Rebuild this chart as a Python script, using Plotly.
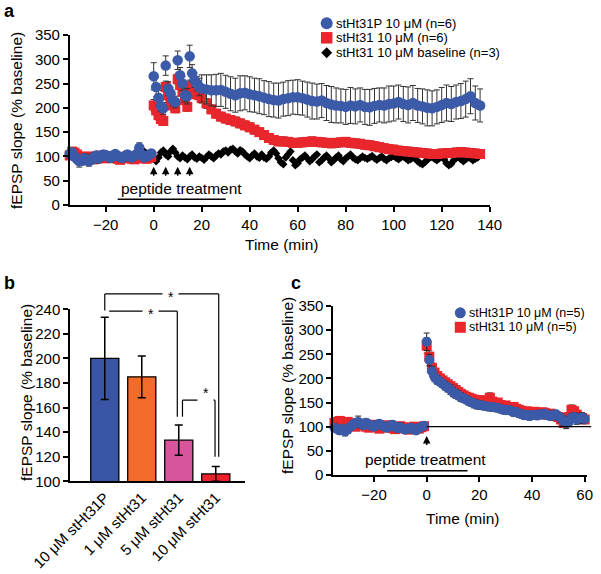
import plotly.graph_objects as go

W, H = 601, 574
FONT = "Liberation Sans, Arial, sans-serif"

# ---------------- Panel a data ----------------
time_a = list(range(-35, 20)) + list(range(20, 137, 2))
blue_a = [105,108,100,95,90,92,96,94,90,93, 98,102,96,100,104,103,100,97,102,105,
          101,99,97,101,104,100,98,102,105,118, 104,98,100,103,106,
          265,243,221,204,199,287,240,230,216,212, 298,267,250,226,224,306,271,257,250,243,
          240,238,236,236,237,233,229,226,230,231, 228,226,224,221,218,216,215,218,220,222,
          222,220,217,214,213,215,210,207,205,204, 202,205,203,206,202,201,204,206,205,208,
          209,212,208,206,210,205,203,200,199,202, 206,210,208,212,214,218,224,210,205]
blue_err_a = [10,9,8,9,12,10,9,11,10,8, 9,8,10,9,8,7,8,9,8,7,
              8,9,8,7,8,9,8,7,8,10, 8,7,8,7,8,
              28,20,15,12,12,20,14,12,12,12, 19,16,14,14,16,23,18,15,15,18,
              28,30,32,33,34,34,35,35,36,35, 36,35,36,35,36,35,36,35,36,35,
              36,35,36,37,36,35,36,37,36,35, 36,37,36,35,36,37,36,35,36,37,
              36,35,36,37,36,35,36,37,36,35, 36,37,36,35,36,37,36,35,34]
red_a = [102,110,108,104,100,97,95,98,100,96, 94,97,100,102,99,96,98,101,99,97,
         95,93,96,98,100,97,95,94,96,98, 100,97,95,97,99,
         205,195,185,177,173,243,226,213,205,199, 259,247,233,216,202,245,238,232,228,226,
         220,209,197,188,182,178,175,172,168,164, 160,155,150,144,138,134,131,131,130,128,
         128,129,130,131,130,129,128,127,128,129, 130,128,127,126,124,123,121,119,117,115,
         114,112,111,110,109,108,107,106,105,105, 106,107,107,108,109,108,107,106,105]
red_err_a = [7,8,7,6,7,6,7,6,7,6, 7,6,7,6,7,6,7,6,7,6,
             7,6,7,6,7,6,7,6,7,6, 7,6,7,6,7,
             12,10,10,9,9,12,10,10,9,9, 12,10,10,9,9,12,10,10,9,9,
             10,10,9,9,9,9,9,9,9,9, 9,9,9,9,9,9,9,9,9,9,
             9,9,9,9,9,9,9,9,9,9, 9,9,9,9,9,9,9,9,9,9,
             9,9,9,9,9,9,9,9,9,9, 9,9,9,9,9,9,9,9,9]
time_black = list(range(-6, 136))
black_a = [104,108,110,106,102,100,
           95,90,98,108,112,104,100,110,116,108,
           100,96,102,98,94,100,104,98,95,100,
           97,93,99,104,100,96,102,106,104,110,
           112,108,114,116,110,106,113,110,104,100,
           96,102,106,100,97,104,98,95,100,108,
           112,106,96,88,84,98,104,110,92,82,
           86,94,98,102,96,90,94,100,104,88,
           92,98,102,96,88,92,98,102,94,90,
           96,100,104,98,94,92,96,100,97,95,
           98,101,96,93,97,100,95,92,96,99,
           101,97,94,98,100,96,92,94,98,95,
           90,86,84,88,93,97,99,95,92,96,
           100,94,86,82,85,92,96,99,94,90,
           94,98,96,92,95,98]
a_names = ["stHt31P 10 μM (n=6)", "stHt31 10 μM (n=6)", "stHt31 10 μM baseline (n=3)"]
a_xticks = [-20, 0, 20, 40, 60, 80, 100, 120, 140]
a_yticks = [0, 50, 100, 150, 200, 250, 300, 350]
a_arrow_times = [0, 5, 10, 15]

# ---------------- Panel b data ----------------
b_categories = ["10 μM stHt31P", "1 μM stHt31", "5 μM stHt31", "10 μM stHt31"]
b_values = [200, 185, 133.5, 106]
b_errors = [33.5, 17, 12.3, 6]
b_colors = ["#3a55a5", "#f26b2b", "#d6559d", "#e8232b"]
b_yticks = [100, 120, 140, 160, 180, 200, 220, 240]

# ---------------- Panel c data ----------------
time_c = list(range(-35, 61))
blue_c = [98,95,92,96,90,94,100,104,108,110, 106,103,108,105,102,100,104,106,103,100,
          98,102,104,100,97,99,96,94,96,98, 95,92,97,100,102,
          276,238,215,203,197,193,189,185,181,177, 172,168,165,161,159,156,153,150,148,146,
          145,144,143,142,141,141,140,139,137,135, 134,135,133,130,131,128,126,124,125,122,
          124,125,123,126,125,127,124,122,124,126, 121,118,112,108,110,118,120,115,117,119,116]
blue_err_c = [8,7,8,7,9,8,7,8,7,12, 8,7,8,7,8,7,8,7,8,7,
              8,7,8,7,8,9,8,7,8,7, 8,7,8,7,6,
              18,12,10,9,9,8,8,9,9,10, 10,9,9,9,8,8,8,8,9,9,
              9,8,8,8,8,8,8,8,8,8, 8,8,8,8,8,8,8,8,8,8,
              8,8,8,8,8,8,8,8,8,8, 8,9,10,12,10,9,9,10,10,10,10]
red_c = [108,110,112,108,105,110,107,104,100,103, 106,104,100,98,102,104,100,96,98,101,
         103,100,97,95,98,101,99,96,94,97, 100,98,96,99,101,
         268,245,222,212,205,200,196,192,188,184, 180,176,172,168,165,162,160,158,156,155,
         154,152,155,150,160,152,148,150,145,142, 144,140,138,141,137,135,133,130,132,128,
         130,131,128,126,130,128,125,127,124,122, 120,115,108,112,120,135,132,125,120,118,115]
red_err_c = [7,6,7,6,7,6,7,6,7,6, 7,6,7,6,7,6,7,6,7,6,
             7,6,7,6,7,6,7,6,7,6, 7,6,7,6,7,
             16,12,10,9,9,8,8,8,8,8, 8,8,8,8,8,8,8,8,8,8,
             8,8,8,8,10,8,8,8,8,8, 8,8,8,8,8,8,8,8,8,8,
             8,8,8,8,8,8,8,8,8,8, 8,8,8,8,8,10,9,8,8,8,8]
c_names = ["stHt31P 10 μM (n=5)", "stHt31 10 μM (n=5)"]
c_xticks = [-20, 0, 20, 40, 60]
c_yticks = [0, 50, 100, 150, 200, 250, 300, 350]

# ---------------- geometry (pixels -> paper) ----------------
A_XR, A_XDOM = [-35, 140], [69.7 / W, 489.7 / W]
A_YR, A_YDOM = [0, 350], [1 - 205 / H, 1 - 35 / H]
B_XR, B_XDOM = [-0.94, 3.79], [70 / W, 245 / W]
B_YR, B_YDOM = [100, 240], [1 - 481.3 / H, 1 - 309.3 / H]
C_XR, C_XDOM = [-35.5, 60.7], [333.2 / W, 586.5 / W]
C_YR, C_YDOM = [0, 350], [1 - 475 / H, 1 - 306 / H]


def to_paper(v, rng, dom):
    return dom[0] + (v - rng[0]) / (rng[1] - rng[0]) * (dom[1] - dom[0])


BLUE = "#3b5aa8"
RED = "#e8262c"

fig = go.Figure()

# Panel a traces (draw order: black, red, blue)
fig.add_trace(go.Scatter(x=time_black, y=black_a, mode="markers", name=a_names[2],
                         marker=dict(symbol="diamond", size=6.5, color="black"),
                         xaxis="x", yaxis="y", cliponaxis=False))
fig.add_trace(go.Scatter(x=time_a, y=red_a, mode="markers", name=a_names[1],
                         marker=dict(symbol="square", size=10, color=RED),
                         error_y=dict(type="data", array=red_err_a, color="#222222", thickness=1, width=3),
                         xaxis="x", yaxis="y", cliponaxis=False))
fig.add_trace(go.Scatter(x=time_a, y=blue_a, mode="markers", name=a_names[0],
                         marker=dict(symbol="circle", size=10.5, color=BLUE),
                         error_y=dict(type="data", array=blue_err_a, color="#333333", thickness=1, width=3),
                         xaxis="x", yaxis="y", cliponaxis=False))

# Panel b bars
fig.add_trace(go.Bar(x=b_categories, y=b_values, width=0.76,
                     marker=dict(color=b_colors, line=dict(color="black", width=1.3)),
                     error_y=dict(type="data", array=b_errors, color="black", thickness=1.5, width=4),
                     xaxis="x2", yaxis="y2"))

# Panel c traces
fig.add_trace(go.Scatter(x=time_c, y=red_c, mode="markers", name=c_names[1],
                         marker=dict(symbol="square", size=10, color=RED),
                         error_y=dict(type="data", array=red_err_c, color="#222222", thickness=1, width=3),
                         xaxis="x3", yaxis="y3", cliponaxis=False))
fig.add_trace(go.Scatter(x=time_c, y=blue_c, mode="markers", name=c_names[0],
                         marker=dict(symbol="circle", size=10, color=BLUE),
                         error_y=dict(type="data", array=blue_err_c, color="#222222", thickness=1, width=3),
                         xaxis="x3", yaxis="y3", cliponaxis=False))

axis_common = dict(showline=True, linecolor="black", linewidth=1.5, ticks="outside", ticklen=5,
                   tickcolor="black", tickwidth=1.5, showgrid=False, zeroline=False, automargin=False,
                   tickfont=dict(family=FONT, size=15, color="black"))

shapes = []
annotations = []

# underline + arrows + text, panel a
shapes.append(dict(type="line", xref="x", yref="y", x0=-15, x1=30, y0=12, y1=12,
                   line=dict(color="black", width=1.5)))
annotations.append(dict(xref="x", yref="y", x=11.4, y=33, text="peptide treatment", showarrow=False,
                        font=dict(family=FONT, size=15.5, color="black")))
for t in a_arrow_times:
    annotations.append(dict(xref="x", yref="y", x=t, y=79, axref="x", ayref="y", ax=t, ay=57,
                            text="", showarrow=True, arrowhead=2, arrowsize=1, arrowwidth=1.5,
                            arrowcolor="black"))

# panel c underline, arrow, text, 100-line
shapes.append(dict(type="line", xref="x3", yref="y3", x0=-15, x1=15.5, y0=9, y1=9,
                   line=dict(color="black", width=1.5)))
shapes.append(dict(type="line", xref="paper", yref="paper",
                   x0=to_paper(0, C_XR, C_XDOM), x1=to_paper(62.5, C_XR, C_XDOM),
                   y0=to_paper(100, C_YR, C_YDOM), y1=to_paper(100, C_YR, C_YDOM),
                   line=dict(color="black", width=1.2)))
annotations.append(dict(xref="x3", yref="y3", x=-0.5, y=33, text="peptide treatment", showarrow=False,
                        font=dict(family=FONT, size=15.5, color="black")))
annotations.append(dict(xref="x3", yref="y3", x=0, y=81, axref="x3", ayref="y3", ax=0, ay=59,
                        text="", showarrow=True, arrowhead=2, arrowsize=1, arrowwidth=1.5,
                        arrowcolor="black"))

# panel b significance brackets (category index, value)
brackets = [
    [(0, 239), (0, 252.5), (3.08, 252.5), (3.08, 120)],
    [(0.12, 238.5), (1.96, 238.5), (1.96, 152.6)],
    [(2.1, 152.6), (2.1, 166), (2.98, 166), (2.98, 120)],
]
for br in brackets:
    for (c0, v0), (c1, v1) in zip(br[:-1], br[1:]):
        shapes.append(dict(type="line", xref="paper", yref="paper",
                           x0=to_paper(c0, B_XR, B_XDOM), x1=to_paper(c1, B_XR, B_XDOM),
                           y0=to_paper(v0, B_YR, B_YDOM), y1=to_paper(v1, B_YR, B_YDOM),
                           line=dict(color="black", width=1.2)))
stars = [(1.54, 252.5), (1.0, 238.5), (2.48, 166)]
for c, v in stars:
    annotations.append(dict(xref="paper", yref="paper", x=to_paper(c, B_XR, B_XDOM),
                            y=to_paper(v, B_YR, B_YDOM), text=" * ", showarrow=False,
                            bgcolor="white", yshift=-3,
                            font=dict(family=FONT, size=14, color="black")))


# axis titles and panel labels
def ann_px(x, y, text, size=15, angle=0, xanchor="center"):
    annotations.append(dict(xref="paper", yref="paper", x=x / W, y=1 - y / H, text=text,
                            showarrow=False, textangle=angle, xanchor=xanchor, yanchor="middle",
                            font=dict(family=FONT, size=size, color="black")))


ann_px(17, 121, "fEPSP slope (% baseline)", 15.5, -90)
ann_px(281, 245, "Time (min)", 15.5)
ann_px(26, 393, "fEPSP slope (% baseline)", 15.5, -90)
ann_px(287, 386, "fEPSP slope (% baseline)", 15.5, -90)
ann_px(462, 518, "Time (min)", 15.5)
ann_px(9, 11, "<b>a</b>", 18)
ann_px(9, 283, "<b>b</b>", 18)
ann_px(296, 283, "<b>c</b>", 18)


# manual legends (key shapes + labels)
def legend_key(cx, cy, symbol, color, size):
    r = size / 2
    if symbol == "circle":
        shapes.append(dict(type="circle", xref="paper", yref="paper",
                           x0=(cx - r) / W, x1=(cx + r) / W, y0=1 - (cy + r) / H, y1=1 - (cy - r) / H,
                           fillcolor=color, line=dict(width=0)))
    elif symbol == "square":
        shapes.append(dict(type="rect", xref="paper", yref="paper",
                           x0=(cx - r) / W, x1=(cx + r) / W, y0=1 - (cy + r) / H, y1=1 - (cy - r) / H,
                           fillcolor=color, line=dict(width=0)))
    else:
        path = "M {a},{b} L {c},{d} L {a},{e} L {f},{d} Z".format(
            a=cx / W, b=1 - (cy - r) / H, c=(cx + r) / W, d=1 - cy / H, e=1 - (cy + r) / H, f=(cx - r) / W)
        shapes.append(dict(type="path", xref="paper", yref="paper", path=path,
                           fillcolor=color, line=dict(width=0)))


a_keys = [("circle", BLUE, 12), ("square", RED, 11.5), ("diamond", "black", 11)]
for i, (name, (sym, col, sz)) in enumerate(zip(a_names, a_keys)):
    cy = [23.3, 37.8, 52.8][i]
    legend_key(326.7, cy, sym, col, sz)
    ann_px(334, cy, name, 13, 0, "left")

c_keys = [("circle", BLUE, 11), ("square", RED, 11)]
for i, (name, (sym, col, sz)) in enumerate(zip(c_names, c_keys)):
    cy = [312.8, 327.3][i]
    legend_key(460.3, cy, sym, col, sz)
    ann_px(467, cy, name, 12.5, 0, "left")

fig.update_layout(
    width=W, height=H, autosize=False,
    margin=dict(l=0, r=0, t=0, b=0, pad=0, autoexpand=False),
    paper_bgcolor="white", plot_bgcolor="white",
    font=dict(family=FONT, color="black"),
    xaxis=dict(axis_common, domain=A_XDOM, range=A_XR, tickvals=a_xticks, anchor="y"),
    yaxis=dict(axis_common, domain=A_YDOM, range=A_YR, tickvals=a_yticks, anchor="x"),
    xaxis2=dict(axis_common, domain=B_XDOM, range=B_XR, ticks="", tickangle=-45, anchor="y2",
                type="category", categoryorder="array", categoryarray=b_categories),
    yaxis2=dict(axis_common, domain=B_YDOM, range=B_YR, tickvals=b_yticks, anchor="x2"),
    xaxis3=dict(axis_common, domain=C_XDOM, range=C_XR, tickvals=c_xticks, anchor="y3"),
    yaxis3=dict(axis_common, domain=C_YDOM, range=C_YR, tickvals=c_yticks, anchor="x3"),
    showlegend=False,
    shapes=shapes, annotations=annotations,
)

fig.write_html("out.html", config={"displayModeBar": False},
               post_script="document.body.style.margin='0px';document.body.style.padding='0px';"
                           "document.documentElement.style.overflow='hidden';")
